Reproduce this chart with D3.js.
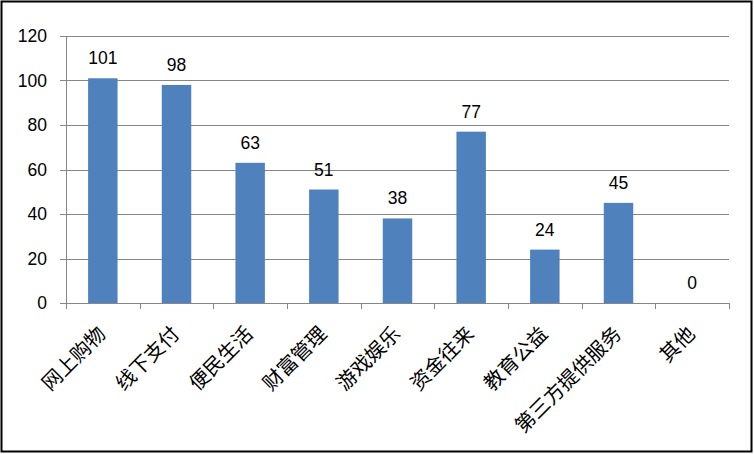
<!DOCTYPE html>
<html><head><meta charset="utf-8">
<script src="https://cdn.jsdelivr.net/npm/d3@7"></script>
<style>body{margin:0;background:#fff}svg{display:block}</style>
</head><body>
<svg id="c" width="754" height="454"></svg>
<script>
const categories = ["网上购物","线下支付","便民生活","财富管理","游戏娱乐","资金往来","教育公益","第三方提供服务","其他"];
const values = [101,98,63,51,38,77,24,45,0];
const yTicks = [0,20,40,60,80,100,120];

(function(){
const svg = d3.select("#c");
svg.append("rect").attr("x",1.5).attr("y",1.5).attr("width",750).attr("height",450)
  .attr("fill","#fff").attr("stroke","#000").attr("stroke-width",2);

const pLeft=66, pRight=729, pTop=36, pBottom=303;
const x = d3.scaleBand().domain(categories).range([pLeft,pRight]).paddingInner(0.6).paddingOuter(0.3);
const xb = d3.scaleBand().domain(categories).range([pLeft,pRight]);
const y = d3.scaleLinear().domain([0,120]).range([pBottom,pTop]);

const numFont = "'Liberation Sans', 'Open Sans', sans-serif";
const cjkFont = "'Noto Sans CJK SC', sans-serif";

svg.append("g").selectAll("line").data(yTicks).join("line")
  .attr("x1",pLeft-6).attr("x2",pRight).attr("y1",d=>Math.round(y(d))+0.5).attr("y2",d=>Math.round(y(d))+0.5)
  .attr("stroke","#868686").attr("stroke-width",1);

svg.append("line").attr("x1",pLeft+0.5).attr("x2",pLeft+0.5).attr("y1",pTop).attr("y2",pBottom)
  .attr("stroke","#868686");

svg.append("g").selectAll("text").data(yTicks).join("text")
  .attr("x",47).attr("y",d=>y(d)).attr("dy","0.36em").attr("text-anchor","end")
  .attr("font-family",numFont).attr("font-size",17.5).attr("fill","#000").text(d=>d);

const bounds = categories.map(c=>xb(c)).concat([pRight]);
svg.append("g").selectAll("line").data(bounds).join("line")
  .attr("x1",d=>Math.round(d)+0.5).attr("x2",d=>Math.round(d)+0.5).attr("y1",pBottom).attr("y2",pBottom+6)
  .attr("stroke","#868686");

svg.append("g").selectAll("rect").data(categories).join("rect")
  .attr("x",(d)=>x(d)).attr("width",x.bandwidth())
  .attr("y",(d,i)=>y(values[i])).attr("height",(d,i)=>pBottom-y(values[i]))
  .attr("fill","#4F81BD");

svg.append("g").selectAll("text").data(categories).join("text")
  .attr("x",d=>x(d)+x.bandwidth()/2).attr("y",(d,i)=>y(values[i])-14)
  .attr("text-anchor","middle").attr("font-family",numFont).attr("font-size",17.5)
  .attr("fill","#000").text((d,i)=>values[i]);

svg.append("g").selectAll("text").data(categories).join("text")
  .attr("transform",d=>`translate(${xb(d)+xb.bandwidth()/2-1},${pBottom+27}) rotate(-45)`)
  .attr("text-anchor","end").attr("dy","0.36em")
  .attr("font-family",cjkFont).attr("font-size",20).attr("fill","#000").text(d=>d);
})();
</script>
</body></html>
